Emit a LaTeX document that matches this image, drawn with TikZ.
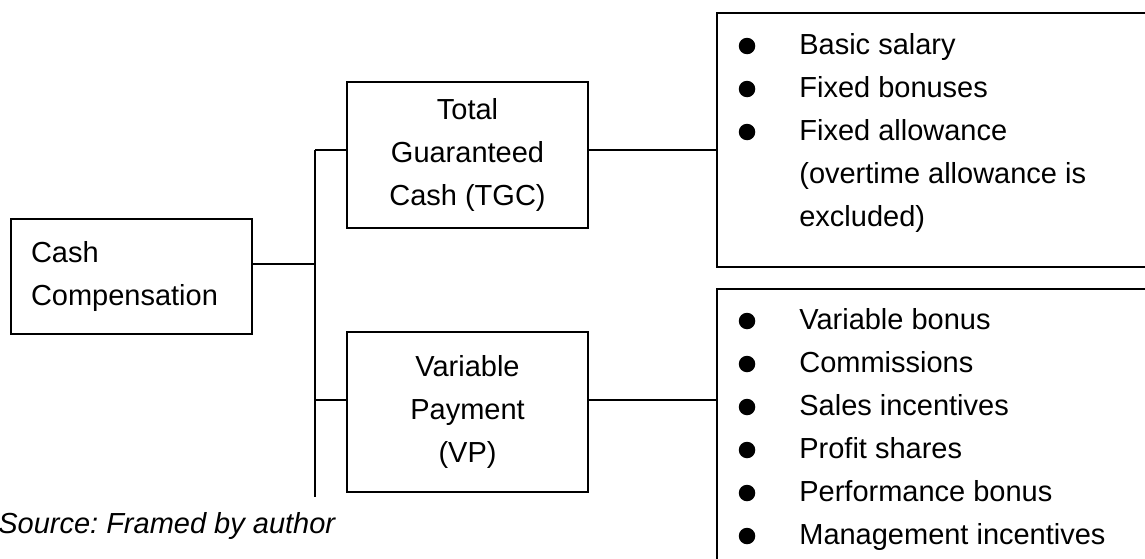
\documentclass[tikz,border=0pt]{standalone}
\usepackage{fontspec}
\setmainfont{Liberation Sans}
\usetikzlibrary{positioning}
\tikzset{
    cbox/.style = {rectangle, draw=black, line width=1pt, inner sep=0pt, minimum width=4.82cm},
    listbox/.style = {rectangle, draw=black, line width=1pt, anchor=north west, minimum width=10cm},
    item/.style = {anchor=base west, inner sep=0pt},
    link/.style = {line width=1pt}
}

\begin{document}
\begin{tikzpicture}[x=0.02cm, y=-0.02cm,
    font=\fontsize{16.5pt}{24.5pt}\selectfont\frenchspacing]
  \useasboundingbox (0,0) rectangle (1145,558);

  % left column and the two parts
  \node[cbox, align=left, text width=4.02cm, inner xsep=0.4cm, minimum height=2.30cm] (cash) at (131.5,276.5) {Cash\\Compensation};
  \node[cbox, align=center, minimum height=2.92cm] (tgc) at (467.5,155) {Total\\Guaranteed\\Cash (TGC)};
  \node[cbox, align=center, minimum height=3.20cm] (vp) at (467.5,412) {Variable\\Payment\\(VP)};

  % the list frames run off the page
  \node[listbox, minimum height=5.08cm] (fixedbox) at (716,12) {};
  \node[listbox, minimum height=6.00cm] (varbox) at (716,288) {};

  \node[item] (f1) at (799,54)  {Basic salary};
  \node[item] (f2) at (799,97)  {Fixed bonuses};
  \node[item] (f3) at (799,140) {Fixed allowance};
  \node[item] (f4) at (799,183) {(overtime allowance is};
  \node[item] (f5) at (799,226) {excluded)};

  \node[item] (v1) at (799,329) {Variable bonus};
  \node[item] (v2) at (799,372) {Commissions};
  \node[item] (v3) at (799,415) {Sales incentives};
  \node[item] (v4) at (799,458) {Profit shares};
  \node[item] (v5) at (799,501) {Performance bonus};
  \node[item] (v6) at (799,544) {Management incentives};

  \foreach \n in {f1,f2,f3,v1,v2,v3,v4,v5,v6}
    \fill ([xshift=-1.04cm, yshift=0.16cm]\n.base west) circle (0.165cm);

  \node[item, font=\fontsize{16.5pt}{24.5pt}\selectfont\frenchspacing\itshape] (src) at (-2,533) {Source: Framed by author};

  % connectors
  \coordinate (bustop) at (315,150);
  \coordinate (busmid) at (315,264);
  \coordinate (busvp)  at (315,400);
  \coordinate (busend) at (315,497);
  \draw[link] (bustop) -- (busend);
  \draw[link] (cash.east |- busmid) -- (busmid);
  \draw[link] (bustop) -- (tgc.west |- bustop);
  \draw[link] (busvp) -- (vp.west |- busvp);
  \draw[link] (tgc.east |- bustop) -- (fixedbox.west |- bustop);
  \draw[link] (vp.east |- busvp) -- (varbox.west |- busvp);
\end{tikzpicture}
\end{document}
